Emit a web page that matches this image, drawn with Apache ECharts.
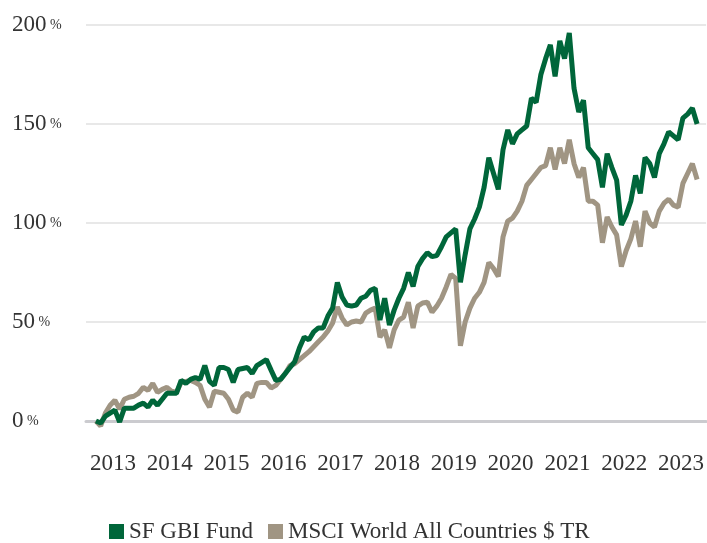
<!DOCTYPE html>
<html>
<head>
<meta charset="utf-8">
<script src="https://cdn.jsdelivr.net/npm/echarts@6/dist/echarts.min.js"></script>
<style>html,body{margin:0;padding:0;background:#fff;}#c{width:707px;height:543px;}</style>
</head>
<body>
<div id="c"></div>
<script>
var seriesNames = ['SF GBI Fund', 'MSCI World All Countries $ TR'];
var yearLabels = ['2013','2014','2015','2016','2017','2018','2019','2020','2021','2022','2023'];
var yTicks = [0, 50, 100, 150, 200];
var fundValues = [
  0,-1,2.5,4,5.5,-0.5,6.5,6.5,6.5,8,9,7,10.5,8,11,14,14,14,20.5,19,21,22,21,28,20,18,27,27,26,19.5,
  26,26.5,27,24,28,29.5,31,25.7,20.5,21,24,27,30,37,42.4,41,45,47,47,53,57,70,62.6,58.6,58,58.6,62,63,66,67,
  51,62,48.5,56,62,67,75,68,78,82,85,83,83.5,88,93,95,97,70,84,97,102,108,118,133,125,117,137,147,140,145,
  147,149,163,161,175,183,190,174,192,183,196,168,156,162,138,135,132,118,135,128,121.7,99,104,111,124,115,133,130,123,135,
  140,146,144,142,153,155,158,150
];
var msciValues = [
  0,-2.5,4,8,10.5,6,11,12,12.5,14,17,15.5,19,14.5,16,17,15,14.5,19.5,20,20.5,19.5,18,11,7,15,14.5,14,11,5.5,
  4.5,12,14,12,19,19.5,19.5,16.7,18,21,24,28,29,31,33,35,37.5,40,42.4,45.5,49.5,57.6,52,48.5,50,50.5,50,54.5,56,57,
  42.4,46,37,46,51,52.5,60,47,58,59.6,60,55,58,62,67.7,74,72,38,50,57,62,65,70,80,77,73,93,101,102.5,106,
  111,119,122,125,128,129,138,127,138,130,142,130,123,128,111,111,109,90,103,98,94,78,86,92,101,88,106,100,98,106,
  110,112,109,108,120,125,130,122
];
var labelOffset = 3.6;

var FONT = 'Liberation Serif';
function pairs(arr){ return arr.map(function(v,i){ return [i, v]; }); }
var labelPos = yearLabels.map(function(y,k){ return labelOffset + 12*k; });

var chart = echarts.init(document.getElementById('c'), null, {renderer:'canvas'});
chart.setOption({
  animation: false,
  backgroundColor: '#ffffff',
  grid: {left: 86, right: 0, top: 25, bottom: 122, containLabel: false},
  xAxis: {
    type: 'value', min: -2.1, max: 128.9,
    axisLine: {show: true, onZero: true, lineStyle: {color: '#cbcbcf', width: 3}},
    axisTick: {show: false},
    splitLine: {show: false},
    axisLabel: {
      customValues: labelPos,
      margin: 31,
      color: '#333333', fontFamily: FONT, fontSize: 23,
      formatter: function(v){
        var k = Math.round((v - labelOffset)/12);
        return yearLabels[k] || '';
      }
    }
  },
  yAxis: {
    type: 'value', min: 0, max: 200, interval: 50,
    axisLine: {show: false}, axisTick: {show: false},
    splitLine: {show: true, lineStyle: {color: '#e0e0e0', width: 1.5}},
    axisLabel: {
      margin: 74, align: 'left',
      formatter: function(v){ return '{n|' + v + '}{p| %}'; },
      rich: {
        n: {fontFamily: FONT, fontSize: 23, color: '#333333'},
        p: {fontFamily: FONT, fontSize: 14, color: '#333333'}
      }
    }
  },
  legend: {
    top: 515, left: 104,
    itemWidth: 15, itemHeight: 15, itemGap: 15,
    icon: 'rect',
    textStyle: {fontFamily: FONT, fontSize: 23, color: '#333333'},
    data: seriesNames
  },
  series: [
    {
      name: seriesNames[0], type: 'line', data: pairs(fundValues),
      showSymbol: false, symbol: 'none', clip: false, z: 3,
      itemStyle: {color: '#00663a'},
      lineStyle: {color: '#00663a', width: 5, join: 'bevel'}
    },
    {
      name: seriesNames[1], type: 'line', data: pairs(msciValues),
      showSymbol: false, symbol: 'none', clip: false, z: 2,
      itemStyle: {color: '#a09583'},
      lineStyle: {color: '#a09583', width: 5, join: 'bevel'}
    }
  ]
});
</script>
</body>
</html>
